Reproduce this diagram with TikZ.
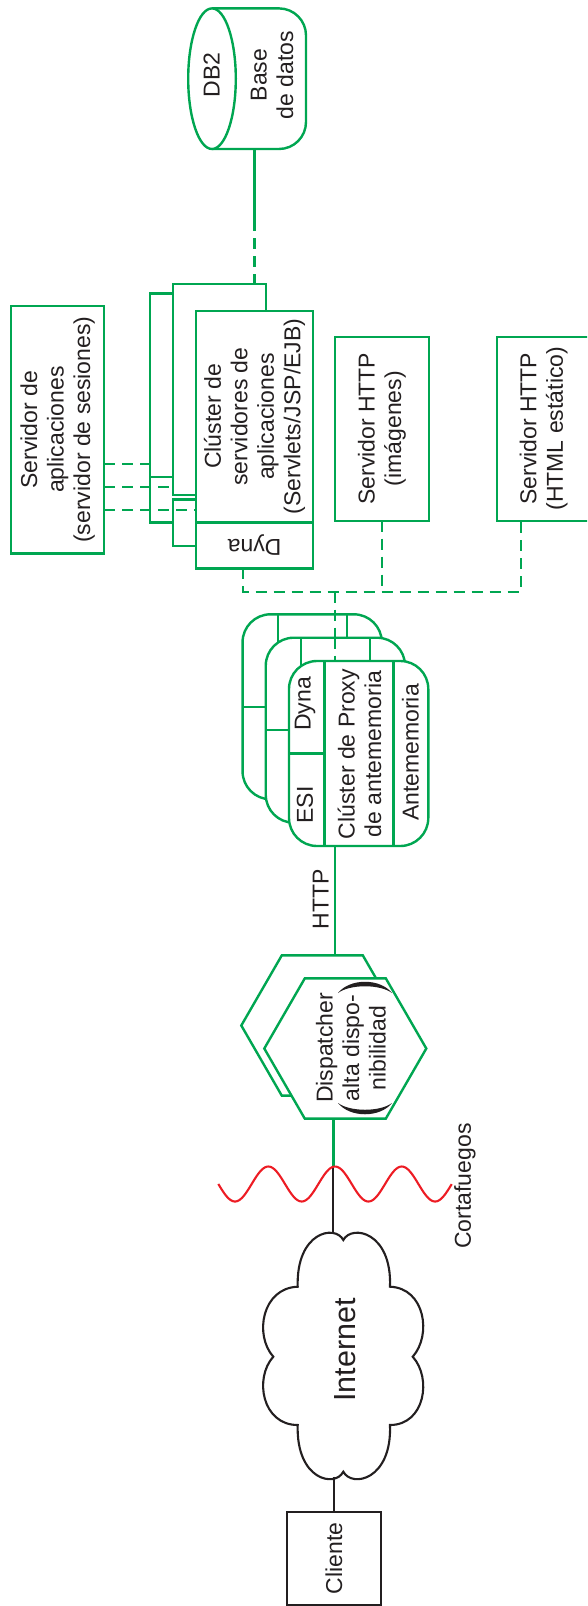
\documentclass[tikz,border=0pt]{standalone}
\usepackage{fontspec}
\setmainfont{Liberation Sans}
\usetikzlibrary{shapes.geometric}
\definecolor{grn}{RGB}{0,166,81}
\definecolor{fwred}{RGB}{237,28,36}
\definecolor{txt}{RGB}{35,31,32}
\newcommand\dgfs{\fontsize{23}{26.5}\selectfont}
\newcommand\dgbig{\fontsize{30.5}{34}\selectfont}
\pgfdeclarelayer{bg}
\pgfsetlayers{bg,main}
\begin{document}
\begin{tikzpicture}[x=1pt,y=-1pt,
  gl/.style={draw=grn, line width=2.4pt},
  gd/.style={gl, dash pattern=on 11pt off 7pt},
  gbox/.style={draw=grn, line width=2.4pt, fill=white, rectangle, inner sep=0pt, outer sep=0pt},
  pxbox/.style={gbox, rounded corners=28pt, minimum width=139.3pt, minimum height=185pt},
  hexa/.style={draw=grn, line width=2.4pt, fill=white, regular polygon, regular polygon sides=6, minimum size=162pt, inner sep=0pt, outer sep=0pt},
  lbl0/.style={text=txt, font=\dgfs, inner sep=0pt, align=center},
  lbl/.style={lbl0, rotate=90},
  bl/.style={draw=txt, line width=2.1pt}]

\useasboundingbox (0,0) rectangle (587,1606);
\clip (0,0) rectangle (587,1606);

% ---------- database ----------
\draw[gl, fill=white, rounded corners=27pt] (212,8.4) -- (306,8.4) -- (306,149) -- (212,149);
\draw[gl, fill=white] (212,78.7) ellipse [x radius=23.8, y radius=70.3];
\node[lbl] (db2) at (211.5,75) {DB2};
\node[lbl] (dbname) at (272,75) {Base\\de datos};
\coordinate (dbb) at (254.6,150);
\coordinate (dbm) at (254.6,220);

% ---------- application server cluster ----------
\node[gbox, minimum width=90pt, minimum height=183.4pt] (appAm) at (195,385) {};
\node[gbox, minimum width=90pt, minimum height=45.6pt] (appAd) at (195,499.5) {};
\node[gbox, minimum width=93.5pt, minimum height=211pt] (appBm) at (219.45,389.5) {};
\node[gbox, minimum width=93.5pt, minimum height=46.7pt] (appBd) at (219.45,522.65) {};
\node[gbox, minimum width=116.8pt, minimum height=211.6pt] (appCm) at (254.6,416.5) {};
\node[gbox, minimum width=116.8pt, minimum height=46pt] (appCd) at (254.6,545.3) {};
\node[lbl] (appCl) at (appCm) {Clúster de\\servidores de\\aplicaciones\\(Servlets/JSP/EJB)};
\node[lbl0, rotate=180] (appCdl) at (appCd) {Dyna};

\draw[gl] (dbb) -- (dbm);
\draw[gd] (dbm) -- (appBm.north -| dbm);

% ---------- session server ----------
\node[gbox, minimum width=92.8pt, minimum height=247.3pt] (sess) at (57.6,429.65) {};
\node[lbl] (sessl) at (sess) {Servidor de\\aplicaciones\\(servidor de sesiones)};
\coordinate (yA) at (0,464);
\coordinate (yB) at (0,486.7);
\coordinate (yC) at (0,510);
\draw[gd] (sess.east |- yA) -- (appAm.west |- yA);
\draw[gd] (sess.east |- yB) -- (appBm.west |- yB);
\draw[gd] (sess.east |- yC) -- (appCm.west |- yC);

% ---------- HTTP servers ----------
\node[gbox, minimum width=93.7pt, minimum height=184pt] (imgs) at (381.85,428.7) {};
\node[lbl] (imgsl) at (imgs) {Servidor HTTP\\(imágenes)};
\node[gbox, minimum width=93.7pt, minimum height=184pt] (html) at (543.55,428.7) {};
\node[lbl] (htmll) at (html) {Servidor HTTP\\(HTML estático)};

\coordinate (jL) at (243,591.7);
\coordinate (jP) at (335,591.7);
\coordinate (jI) at (381.9,591.7);
\coordinate (jR) at (520.7,591.7);
\draw[gd] (appCd.south -| jL) -- (jL) -- (jR) -- (html.south -| jR);
\draw[gd] (imgs.south -| jI) -- (jI);

% ---------- caching proxy cluster ----------
\node[pxbox] (px1) at (312.2,706.8) {};
\draw[gl] ([xshift=35.3pt]px1.north west) -- ([xshift=35.3pt]px1.south west)
          ([xshift=104.3pt]px1.north west) -- ([xshift=104.3pt]px1.south west)
          (px1.west) -- ([xshift=35.3pt]px1.west);
\node[pxbox] (px2) at (335.4,730.2) {};
\draw[gl] ([xshift=35.3pt]px2.north west) -- ([xshift=35.3pt]px2.south west)
          ([xshift=104.3pt]px2.north west) -- ([xshift=104.3pt]px2.south west)
          (px2.west) -- ([xshift=35.3pt]px2.west);
\draw[gd] (jP) -- (px2.north -| jP);
\node[pxbox] (px3) at (358.65,753.5) {};
\draw[gl] ([xshift=35.3pt]px3.north west) -- ([xshift=35.3pt]px3.south west)
          ([xshift=104.3pt]px3.north west) -- ([xshift=104.3pt]px3.south west)
          (px3.west) -- ([xshift=35.3pt]px3.west);
\draw[gd] (px2.north -| jP) -- (px3.north -| jP);
\node[lbl] (pxdyna) at (305,704) {Dyna};
\node[lbl] (pxesi) at (305,805) {ESI};
\node[lbl] (pxname) at (359.5,754) {Clúster de Proxy\\de antememoria};
\node[lbl] (pxcache) at (410.5,752.5) {Antememoria};

% ---------- dispatcher ----------
\node[hexa] (hexb) at (322.3,1025.5) {};
\node[hexa] (hexf) at (345.3,1048.5) {};
\coordinate (fw) at (333.3,1166.7);
\begin{pgfonlayer}{bg}
\draw[gl] (px3.south -| jP) -- (hexb.center -| jP);
\draw[gl] (hexf.center -| fw) -- (fw);
\end{pgfonlayer}
\node[lbl] (disp) at (351,1048) {Dispatcher\\alta dispo-\\nibilidad};
\fill[txt] (338,993) .. controls (350,978) and (380,978) .. (392,993)
           .. controls (380,984) and (350,984) .. cycle;
\fill[txt] (338,1103) .. controls (350,1118) and (380,1118) .. (392,1103)
           .. controls (380,1112) and (350,1112) .. cycle;
\node[lbl] (httpl) at (320.7,899) {HTTP};

% ---------- firewall ----------
\coordinate (cloudtop) at (333.3,1234);
\draw[bl] (fw) -- (cloudtop);
\draw[fwred, line width=2.1pt] plot[domain=218.3:451.7, samples=160] (\x,{1184+17.5*cos((\x-235)*5.3973)});
\node[lbl] (fwl) at (465,1186) {Cortafuegos};

% ---------- internet ----------
\draw[bl, fill=white] (297.7,1286.7)
  .. controls (296,1232) and (335,1224) .. (343.3,1240)
  .. controls (352,1224) and (392,1232) .. (390,1286.7)
  .. controls (425,1288) and (432,1335) .. (412.7,1356.7)
  .. controls (432,1378) and (425,1425) .. (390,1425)
  .. controls (392,1480) and (352,1488) .. (343.3,1471.7)
  .. controls (335,1488) and (296,1480) .. (297.7,1425)
  .. controls (262,1425) and (254,1378) .. (273.3,1356.7)
  .. controls (254,1335) and (262,1288) .. cycle;
\node[text=txt, font=\dgbig, inner sep=0pt, rotate=90] (inet) at (345,1350) {Internet};
\coordinate (cloudbot) at (334,1476.5);

% ---------- client ----------
\node[draw=txt, line width=2.1pt, rectangle, minimum width=93.4pt, minimum height=93.3pt, inner sep=0pt, outer sep=0pt] (cli) at (334,1558.3) {};
\node[lbl] (clil) at (cli) {Cliente};
\draw[bl] (cloudbot) -- (cli.north -| cloudbot);
\end{tikzpicture}
\end{document}
